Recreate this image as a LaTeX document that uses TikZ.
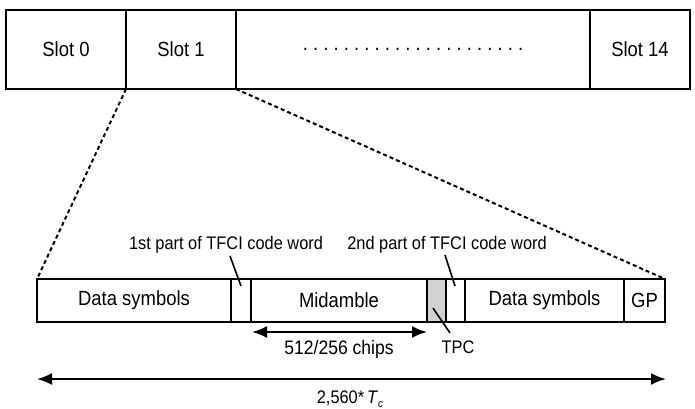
\documentclass[tikz,border=0pt]{standalone}
\usepackage{fontspec}
\setmainfont{Liberation Sans}[FakeStretch=0.9]
\usetikzlibrary{arrows.meta,calc}
\definecolor{tpcgray}{RGB}{208,210,212}
\begin{document}
\begin{tikzpicture}[x=1pt,y=-1pt,
  cell/.style={draw,line width=2pt,inner sep=0pt,outer sep=0pt,anchor=north west,
    minimum height=#1},
  topcell/.style={cell=79pt,font=\fontsize{20.5}{20.5}\selectfont},
  subcell/.style={cell=43pt,font=\fontsize{20.5}{20.5}\selectfont},
  lbl/.style={inner sep=0pt,font=\fontsize{18.2}{18.2}\selectfont},
  zoomline/.style={line width=2pt,dash pattern=on 4pt off 3pt},
  pointer/.style={line width=1.6pt},
  dimarrow/.style={line width=2pt,{Latex[length=15pt,width=12pt]}-{Latex[length=15pt,width=12pt]}}
]
\useasboundingbox (0,0) rectangle (695,408);
\frenchspacing

% frame of 15 slots
\node[topcell,minimum width=120pt] (s0) at (6,10) {Slot 0};
\node[topcell,minimum width=110pt] (s1) at (126,10) {Slot 1};
\node[topcell,minimum width=354pt] (sdots) at (236,10)
  {. . . . . . . . . . . . . . . . . . . . . .};
\node[topcell,minimum width=100pt] (s14) at (590,10) {Slot 14};

% structure of one slot
\node[subcell,minimum width=194pt] (d1) at (37,279) {Data symbols};
\node[subcell,minimum width=20pt] (tf1) at (231,279) {};
\node[subcell,minimum width=176pt] (mid) at (251,279) {Midamble};
\node[subcell,minimum width=19pt,fill=tpcgray] (tpc) at (427,279) {};
\node[subcell,minimum width=19pt] (tf2) at (446,279) {};
\node[subcell,minimum width=159pt] (d2) at (465,279) {Data symbols};
\node[subcell,minimum width=41pt] (gp) at (624,279) {GP};

% zoom lines from slot 1 to the expanded slot
\draw[zoomline] (s1.south west) -- (d1.north west);
\draw[zoomline] (s1.south east) -- (gp.north east);

% field labels
\node[lbl] (l1) at (226,245) {1st part of TFCI code word};
\node[lbl] (l2) at (447,245) {2nd part of TFCI code word};
\node[lbl] (ltpc) at (458,347) {TPC};
\coordinate (p1a) at (230,256);
\coordinate (p1b) at (241,286);
\coordinate (p2a) at (445,255);
\coordinate (p2b) at (455,286);
\coordinate (p3a) at (433,308);
\coordinate (p3b) at (450,333);
\draw[pointer] (p1a) -- (p1b);
\draw[pointer] (p2a) -- (p2b);
\draw[pointer] (p3a) -- (p3b);

% dimensions
\coordinate (ma) at (252,332);
\coordinate (mb) at (427,332);
\draw[dimarrow] (ma) -- (mb);
\node[lbl,font=\fontsize{19.5}{19.5}\selectfont] (lchips) at (339,349) {512/256 chips};

\coordinate (ta) at (37,379);
\coordinate (tb) at (666,379);
\draw[dimarrow] (ta) -- (tb);
\node[lbl,anchor=base] (ltotal) at (350,403) {2,560*\,\textit{T}\raisebox{-4pt}{\fontsize{11}{11}\selectfont\textit{c}}};
\end{tikzpicture}
\end{document}
